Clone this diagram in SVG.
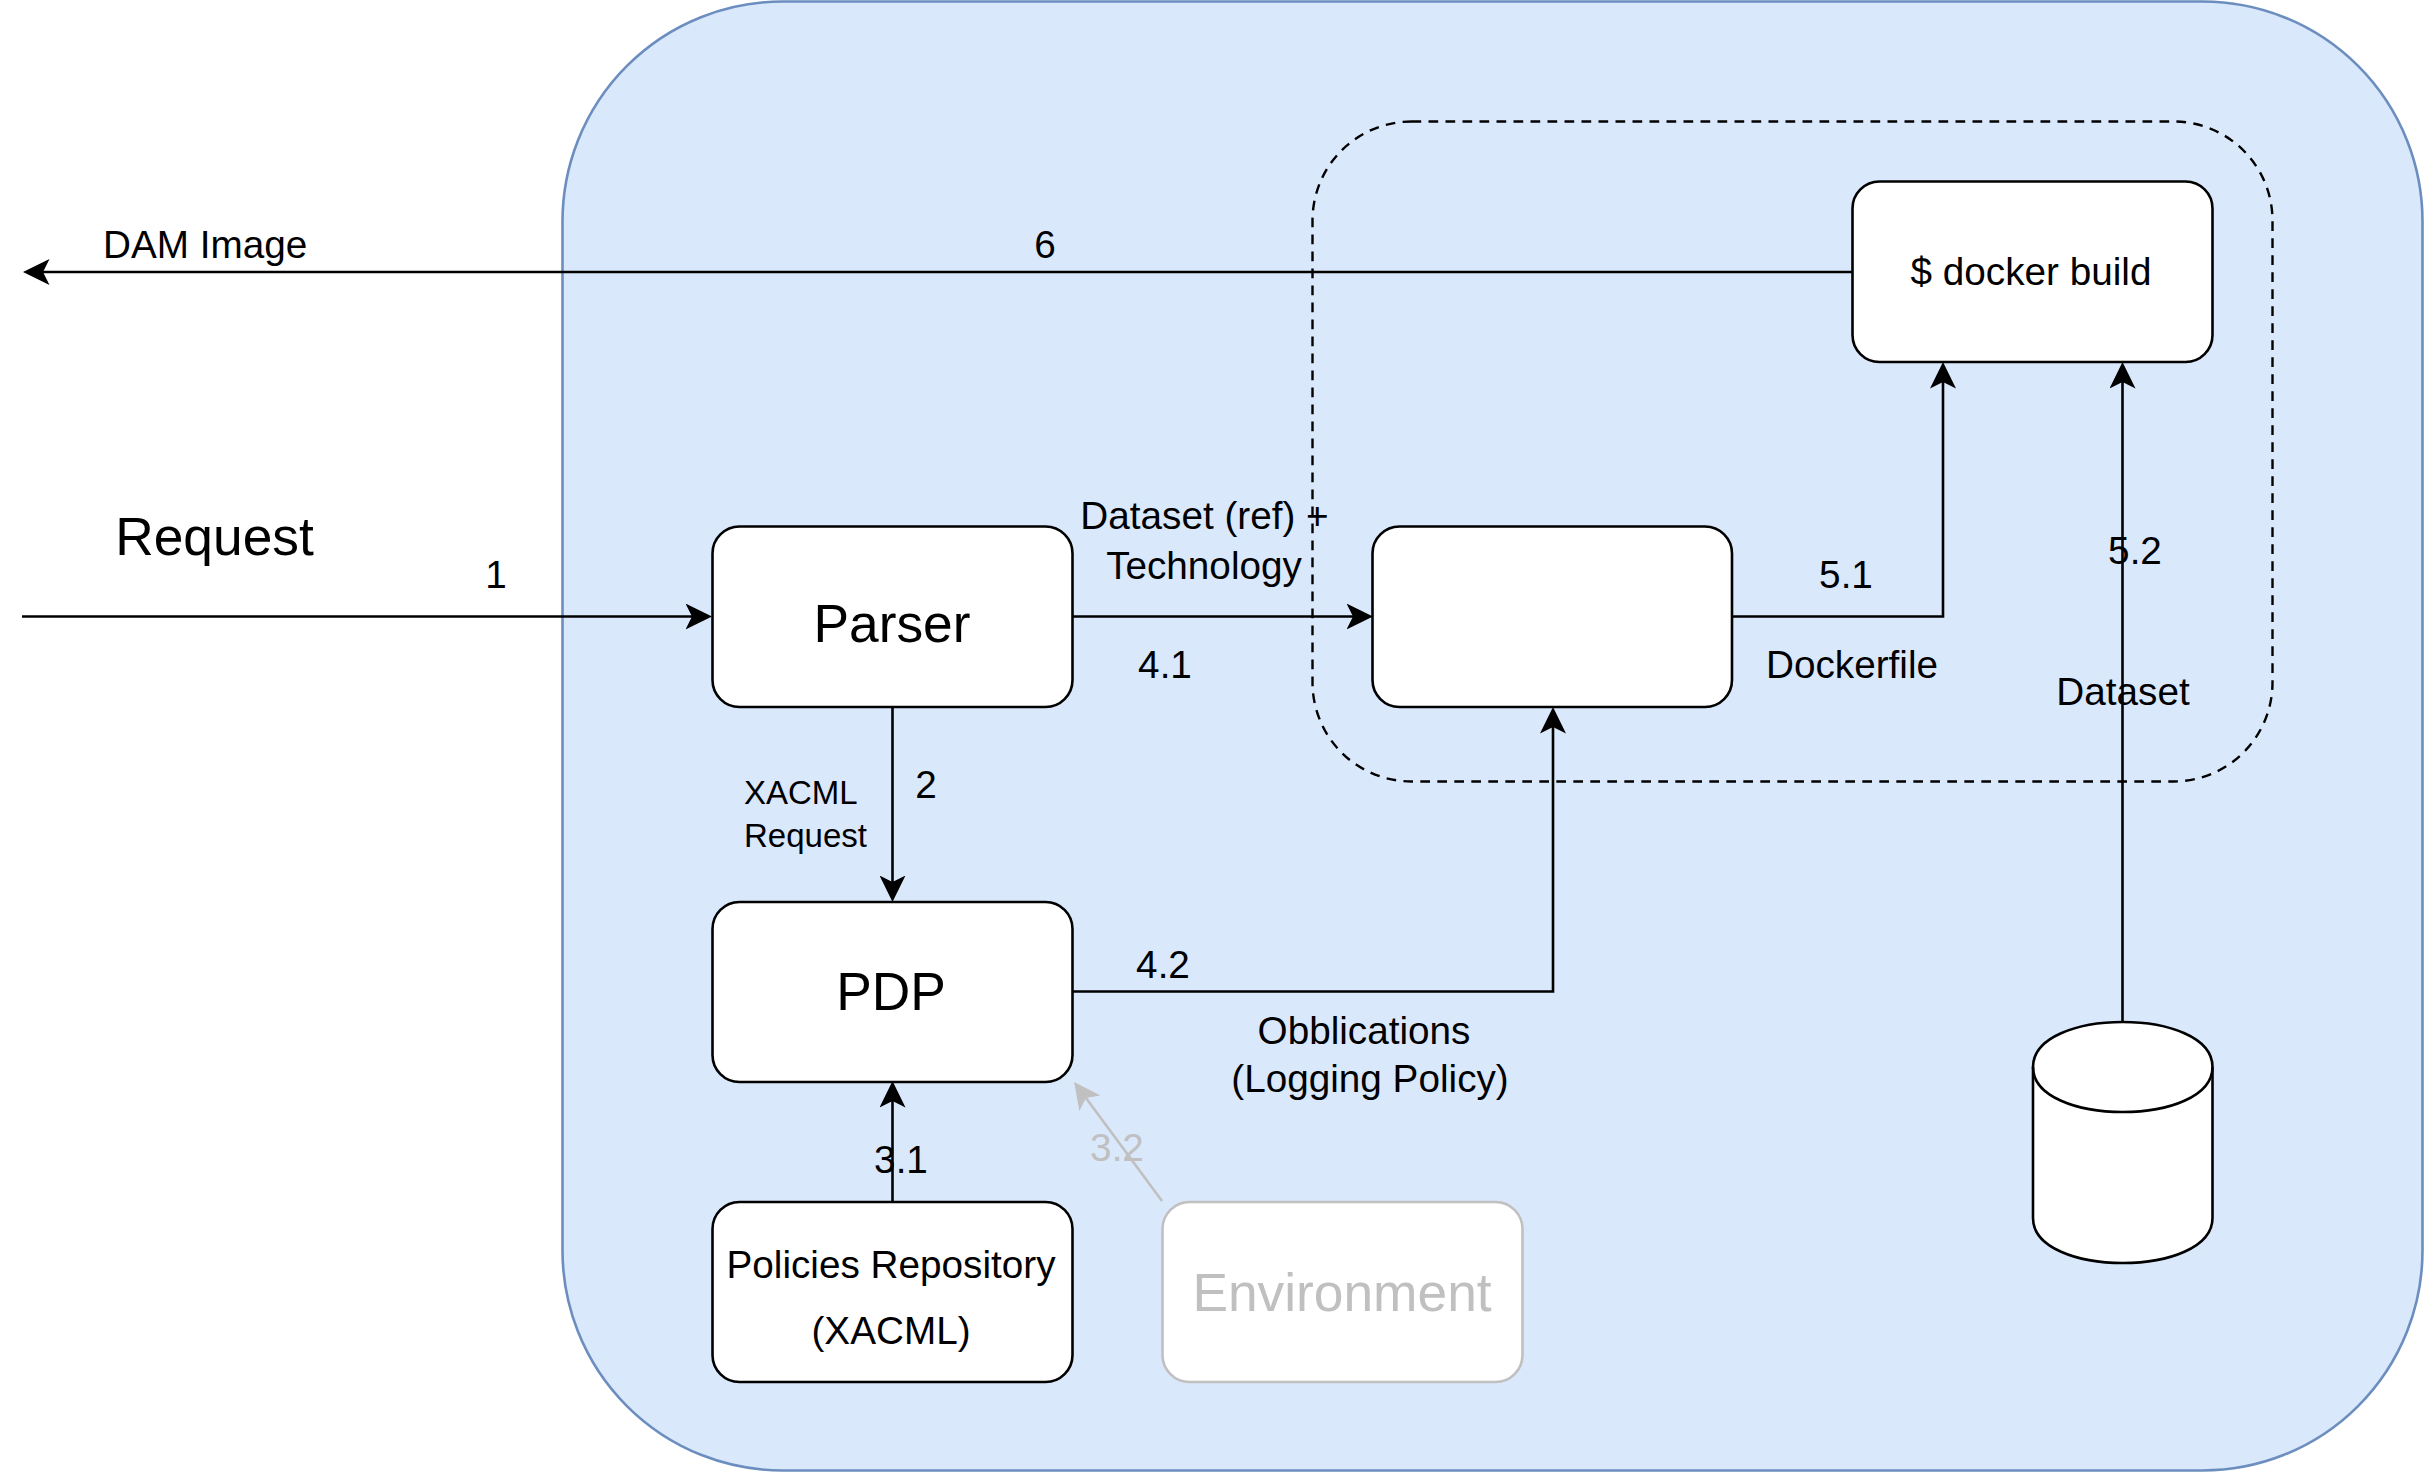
<svg xmlns="http://www.w3.org/2000/svg" width="2427" height="1473" viewBox="0 0 2427 1473">
<style>
text{font-family:"Liberation Sans",Arial,sans-serif;fill:#000;text-anchor:middle;font-size:38.7px}
.big{font-size:53.3px}
.small{font-size:33px;text-anchor:start}
.node{fill:#fff;stroke:#000;stroke-width:2.6}
.conn{fill:none;stroke:#000;stroke-width:2.6}
.grey{stroke:#c0c0c0}
text.gt{fill:#c0c0c0}
</style>
<defs>
<marker id="arrow" markerUnits="userSpaceOnUse" markerWidth="27" markerHeight="26" viewBox="0 0 27 26" refX="6.5" refY="13" orient="auto"><path d="M0 0L26.5 13L0 26L6.5 13Z" fill="#000"/></marker>
<marker id="arrowGrey" markerUnits="userSpaceOnUse" markerWidth="27" markerHeight="26" viewBox="0 0 27 26" refX="6.5" refY="13" orient="auto"><path d="M0 0L26.5 13L0 26L6.5 13Z" fill="#c0c0c0"/></marker>
</defs>
<g id="container"><rect x="562.500" y="1.500" width="1860" height="1469" rx="220" ry="220" fill="#dae8fc" stroke="#6c8ebf" stroke-width="2.6"/></g>
<g id="build-group"><rect x="1312.500" y="121.500" width="960" height="660" rx="99" ry="99" fill="none" stroke="#000" stroke-width="2.4" stroke-dasharray="9.700 7.300"/></g>
<g id="connectors">
<path class="conn" d="M1853 272H43" marker-end="url(#arrow)"/>
<path class="conn" d="M22 616.500H692" marker-end="url(#arrow)"/>
<path class="conn" d="M1073 616.500H1353" marker-end="url(#arrow)"/>
<path class="conn" d="M1732 616.500H1943V382" marker-end="url(#arrow)"/>
<path class="conn" d="M2122.500 1022V382" marker-end="url(#arrow)"/>
<path class="conn" d="M1073 991.500H1553V727" marker-end="url(#arrow)"/>
<path class="conn" d="M892.500 707V882" marker-end="url(#arrow)"/>
<path class="conn" d="M892.500 1202V1101" marker-end="url(#arrow)"/>
<path class="conn grey" d="M1162 1201L1086 1098" marker-end="url(#arrowGrey)"/>
</g>
<g id="parser"><rect class="node" x="712.500" y="526.500" width="360" height="180.500" rx="27"/><text class="big" x="892" y="642">Parser</text></g>
<g id="pdp"><rect class="node" x="712.500" y="902" width="360" height="180" rx="27"/><text class="big" x="891" y="1010">PDP</text></g>
<g id="policies"><rect class="node" x="712.500" y="1202" width="360" height="180" rx="27"/><text x="891" y="1278">Policies Repository</text><text x="891" y="1344">(XACML)</text></g>
<g id="environment"><rect class="node grey" x="1162.500" y="1202" width="360" height="180" rx="27"/><text class="big gt" x="1342" y="1311">Environment</text></g>
<g id="dockerfile"><rect class="node" x="1372.500" y="526.500" width="359.500" height="180.500" rx="27"/></g>
<g id="docker-build"><rect class="node" x="1852.500" y="181.500" width="360" height="180.500" rx="27"/><text x="2031" y="285">$ docker build</text></g>
<g id="dataset"><path class="node" d="M2033 1067C2033 1007 2212.500 1007 2212.500 1067V1218C2212.500 1278 2033 1278 2033 1218Z"/><path class="node" style="fill:none" d="M2033 1067C2033 1127 2212.500 1127 2212.500 1067"/></g>
<g id="labels">
<text x="103" y="258" style="text-anchor:start">DAM Image</text>
<text x="1045" y="258">6</text>
<text class="big" x="214.500" y="555">Request</text>
<text x="496" y="588">1</text>
<text x="1204.500" y="529">Dataset (ref) +</text>
<text x="1204" y="579">Technology</text>
<text x="1165" y="678">4.1</text>
<text x="926" y="798">2</text>
<text class="small" x="744" y="804">XACML</text>
<text class="small" x="744" y="847">Request</text>
<text x="1163" y="978">4.2</text>
<text x="1364" y="1044">Obblications</text>
<text x="1370" y="1092">(Logging Policy)</text>
<text x="901" y="1173">3.1</text>
<text class="gt" x="1117" y="1161">3.2</text>
<text x="1846" y="588">5.1</text>
<text x="1852" y="678">Dockerfile</text>
<text x="2135" y="564">5.2</text>
<text x="2123" y="705">Dataset</text>
</g>
</svg>
